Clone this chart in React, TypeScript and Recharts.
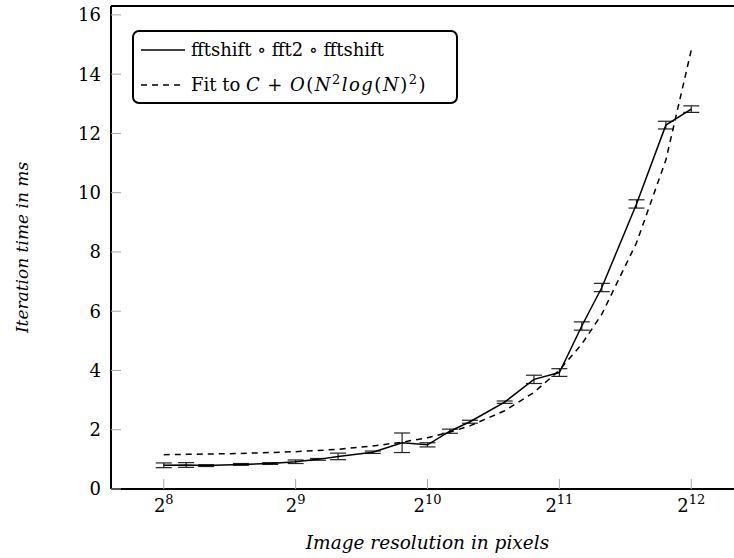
import React from 'react';
import {
  LineChart,
  Line,
  XAxis,
  YAxis,
  ErrorBar,
  Legend,
  Label,
} from 'recharts';

// image sizes in pixels (N)
const sizes = [256, 288, 320, 384, 448, 512, 576, 640, 768, 896, 1024, 1152, 1280, 1536, 1792, 2048, 2304, 2560, 3072, 3584, 4096];
// measured iteration time (ms)
const times = [0.8, 0.81, 0.79, 0.83, 0.86, 0.92, 1.0, 1.1, 1.24, 1.56, 1.49, 1.95, 2.27, 2.93, 3.7, 3.93, 5.5, 6.8, 9.62, 12.28, 12.82];
// error bar half-heights (ms)
const errors = [0.08, 0.08, 0.03, 0.03, 0.03, 0.06, 0.03, 0.11, 0.04, 0.33, 0.07, 0.07, 0.05, 0.04, 0.14, 0.13, 0.14, 0.14, 0.14, 0.13, 0.11];
// fitted curve C + O(N^2 log(N)^2)
const fitted = [1.16, 1.17, 1.18, 1.2, 1.23, 1.26, 1.3, 1.34, 1.45, 1.58, 1.73, 1.92, 2.13, 2.64, 3.26, 4.01, 4.89, 5.9, 8.31, 11.1, 14.81];

const xTicks = [256, 512, 1024, 2048, 4096];
const yTicks = [0, 2, 4, 6, 8, 10, 12, 14, 16];

const SERIF = '"DejaVu Serif", serif';
const TICK_GRAY = '#a8a8a8';

const data = sizes.map((n, i) => ({ n, time: times[i], err: errors[i], fit: fitted[i] }));

function PowTick(props: any) {
  const { x, y, payload } = props;
  const e = Math.round(Math.log2(payload.value));
  return (
    <text x={x} y={y} textAnchor="middle" fontFamily={SERIF} fontSize={18} fill="#000">
      <tspan dy={15}>2</tspan>
      <tspan dy={-8} fontSize={13}>{e}</tspan>
    </text>
  );
}

function FitName() {
  const sup = { fontSize: 13, position: 'relative' as const, top: -7 };
  return (
    <span>
      Fit to{' '}
      <span style={{ letterSpacing: 1.5 }}>
        <i>C</i>
        <span style={{ margin: '0 6px' }}>+</span>
        <i>O</i>(<i>N</i>
        <span style={sup}>2</span>
        <i>log</i>(<i>N</i>)
        <span style={sup}>2</span>)
      </span>
    </span>
  );
}

function LegendBox(props: any) {
  const entries = [...(props.payload || [])].sort((a: any, b: any) => (a.dataKey === 'fit' ? 1 : 0) - (b.dataKey === 'fit' ? 1 : 0));
  return (
    <div
      style={{
        border: '2px solid #000',
        borderRadius: 7,
        background: '#fff',
        width: 326,
        height: 74,
        boxSizing: 'border-box',
        fontFamily: SERIF,
        fontSize: 18,
        color: '#000',
      }}
    >
      {entries.map((entry: any) => {
        const dashed = entry.dataKey === 'fit';
        return (
          <div key={entry.dataKey} style={{ height: 35, display: 'flex', alignItems: 'center', whiteSpace: 'nowrap' }}>
            <svg width={44} height={4} style={{ marginLeft: 7, marginRight: 6 }}>
              <line x1={0} y1={2} x2={44} y2={2} stroke="#000" strokeWidth={1.5} strokeDasharray={dashed ? '6 5' : undefined} />
            </svg>
            {dashed ? <FitName /> : entry.value}
          </div>
        );
      })}
    </div>
  );
}

export default function App() {
  const xDomain = [Math.pow(2, 7.6), Math.pow(2, 12.4)];
  return (
    <div style={{ position: 'absolute', left: 0, top: 0, width: 734, height: 558, overflow: 'hidden', background: '#fff' }}>
      <LineChart width={760} height={558} data={data} margin={{ top: 6, right: 16, bottom: 0, left: 0 }}>
        <XAxis
          dataKey="n"
          type="number"
          scale="log"
          domain={xDomain}
          allowDataOverflow
          ticks={xTicks}
          height={69}
          tickSize={-10}
          tickMargin={18}
          tick={<PowTick />}
          tickLine={{ stroke: TICK_GRAY }}
          axisLine={{ stroke: '#000', strokeWidth: 2 }}
        >
          <Label
            content={(p: any) => {
              const vb = p.viewBox;
              return (
                <text
                  x={vb.x + vb.width / 2}
                  y={vb.y + vb.height - 9}
                  textAnchor="middle"
                  fontFamily={SERIF}
                  fontStyle="italic"
                  fontSize={18.5}
                  fill="#000"
                >
                  Image resolution in pixels
                </text>
              );
            }}
          />
        </XAxis>
        <XAxis
          xAxisId="top"
          orientation="top"
          mirror
          type="number"
          scale="log"
          domain={xDomain}
          allowDataOverflow
          ticks={xTicks}
          tick={false}
          tickSize={10}
          tickLine={{ stroke: TICK_GRAY }}
          axisLine={{ stroke: '#000', strokeWidth: 2 }}
        />
        <YAxis
          type="number"
          domain={[0, 16.3]}
          allowDataOverflow
          ticks={yTicks}
          width={111}
          tickSize={-10}
          tickMargin={20}
          tick={{ fill: '#000', fontSize: 18, fontFamily: SERIF }}
          tickLine={{ stroke: TICK_GRAY }}
          axisLine={{ stroke: '#000', strokeWidth: 2 }}
        >
          <Label
            content={(p: any) => {
              const vb = p.viewBox;
              const cx = vb.x + 22;
              const cy = vb.y + vb.height / 2;
              return (
                <text
                  x={cx}
                  y={cy}
                  transform={`rotate(-90 ${cx} ${cy})`}
                  textAnchor="middle"
                  dominantBaseline="central"
                  fontFamily={SERIF}
                  fontStyle="italic"
                  fontSize={17}
                  fill="#000"
                >
                  Iteration time in ms
                </text>
              );
            }}
          />
        </YAxis>
        <YAxis
          yAxisId="right"
          orientation="right"
          mirror
          type="number"
          domain={[0, 16.3]}
          allowDataOverflow
          ticks={yTicks}
          tick={false}
          tickSize={10}
          tickLine={{ stroke: TICK_GRAY }}
          axisLine={{ stroke: '#000', strokeWidth: 2 }}
        />
        <Legend
          layout="vertical"
          align="center"
          verticalAlign="middle"
          content={<LegendBox />}
          wrapperStyle={{ left: 132, top: 30, width: 326, height: 74 }}
        />
        <Line
          dataKey="time"
          name="fftshift ∘ fft2 ∘ fftshift"
          type="linear"
          stroke="#000"
          strokeWidth={1.5}
          dot={false}
          isAnimationActive={false}
        >
          <ErrorBar dataKey="err" width={8} stroke="#222" strokeWidth={1.2} direction="y" isAnimationActive={false} />
        </Line>
        <Line
          dataKey="fit"
          name="Fit to C + O(N^2log(N)^2)"
          type="linear"
          stroke="#000"
          strokeWidth={1.5}
          strokeDasharray="6 5"
          dot={false}
          isAnimationActive={false}
        />
      </LineChart>
    </div>
  );
}
